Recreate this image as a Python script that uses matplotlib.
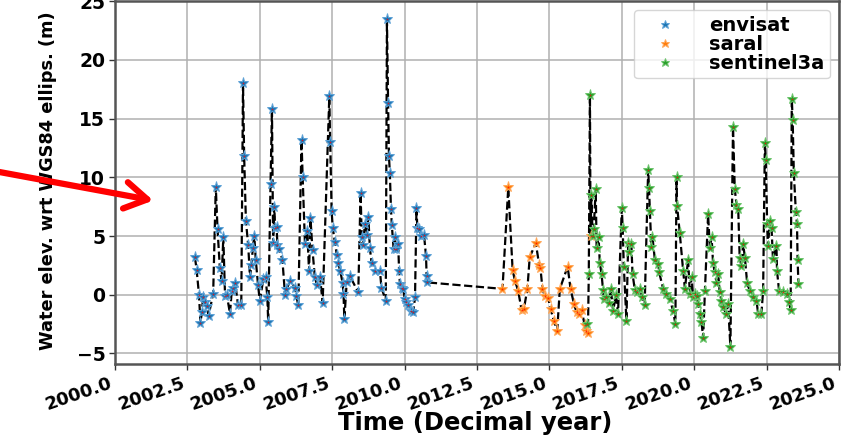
import matplotlib
matplotlib.use("Agg")
import matplotlib.pyplot as plt
from matplotlib.ticker import FormatStrFormatter
from matplotlib.patches import FancyArrowPatch
import numpy as np

# ---------------- data ----------------
envisat_t = [2002.76, 2002.82, 2002.90, 2002.95, 2003.00, 2003.04, 2003.10, 2003.17, 2003.23,
             2003.39, 2003.48, 2003.54, 2003.62, 2003.68, 2003.74, 2003.80, 2003.86, 2003.97,
             2004.03, 2004.09, 2004.15, 2004.25, 2004.36, 2004.42, 2004.46, 2004.52, 2004.60,
             2004.66, 2004.71, 2004.76, 2004.81, 2004.86, 2004.94, 2005.00, 2005.12, 2005.20,
             2005.26, 2005.29, 2005.37, 2005.42, 2005.46, 2005.50, 2005.53, 2005.58, 2005.61,
             2005.67, 2005.78, 2005.87, 2005.92, 2006.06, 2006.21, 2006.26, 2006.33, 2006.44,
             2006.48, 2006.56, 2006.64, 2006.70, 2006.75, 2006.82, 2006.90, 2006.98, 2007.08,
             2007.17, 2007.40, 2007.43, 2007.48, 2007.52, 2007.59, 2007.66, 2007.71, 2007.78,
             2007.86, 2007.89, 2007.92, 2008.00, 2008.11, 2008.40, 2008.48, 2008.52, 2008.56,
             2008.63, 2008.69, 2008.75, 2008.80, 2008.86, 2008.98, 2009.15, 2009.20, 2009.35,
             2009.39, 2009.43, 2009.46, 2009.49, 2009.53, 2009.56, 2009.62, 2009.67, 2009.72,
             2009.78, 2009.81, 2009.84, 2009.90, 2009.95, 2010.01, 2010.06, 2010.13, 2010.21,
             2010.30, 2010.36, 2010.41, 2010.44, 2010.51, 2010.58, 2010.67, 2010.74, 2010.76,
             2010.79]
envisat_h = [3.2, 2.1, 0.0, -2.4, -1.5, -0.2, -0.6, -1.0, -1.8,
             0.1, 9.2, 5.6, 2.3, 1.2, 4.9, -0.1, 0.0, -1.6,
             0.3, 0.6, 1.0, -0.9, -0.9, 18.0, 11.8, 6.3, 4.2,
             1.5, 2.5, 4.0, 5.0, 3.0, 0.8, -0.5, 1.3, 1.5,
             -0.2, -2.3, 9.4, 15.8, 4.4, 7.5, 5.7, 5.8, 4.2,
             3.9, 3.0, 0.0, 0.5, 1.2, 0.6, -0.1, -0.9, 13.2,
             10.0, 4.3, 5.4, 2.0, 6.5, 3.8, 1.5, 0.8, 1.5,
             -0.7, 16.9, 13.0, 7.1, 5.7, 4.5, 3.4, 2.7, 2.0,
             1.0, 0.1, -2.1, 1.05, 1.6, 0.2, 8.7, 4.9, 4.2,
             6.0, 5.1, 6.6, 4.0, 2.7, 2.0, 2.0, 0.6, -0.5,
             23.5, 16.3, 11.8, 10.4, 7.3, 5.9, 3.9, 4.9, 3.9,
             4.3, 2.0, 0.9, 0.6, 0.5, -0.4, -0.65, -0.9, -1.35,
             -1.5, -0.2, 7.4, 5.7, 5.6, 5.0, 5.1, 3.3, 1.6,
             1.05]

saral_t = [2013.38, 2013.58, 2013.73, 2013.81, 2013.92, 2014.04, 2014.12, 2014.24, 2014.32,
           2014.53, 2014.65, 2014.69, 2014.76, 2014.84, 2014.96, 2015.04, 2015.15, 2015.27,
           2015.36, 2015.63, 2015.73, 2015.85, 2015.94, 2016.03, 2016.11, 2016.22, 2016.27,
           2016.33, 2016.42]
saral_h = [0.5, 9.15, 2.1, 1.2, 0.35, -1.3, -1.2, 0.5, 3.2,
           4.4, 2.5, 2.3, 0.5, -0.1, -0.3, -1.2, -2.2, -3.05,
           0.5, 2.4, 0.5, -0.8, -1.5, -1.65, -1.3, -2.6, -3.05,
           -3.3, 5.0]

sentinel3a_t = [2016.30, 2016.36, 2016.40, 2016.45, 2016.49, 2016.53, 2016.60, 2016.63, 2016.70,
                2016.74, 2016.80, 2016.85, 2016.88, 2016.96, 2017.05, 2017.12, 2017.20, 2017.30,
                2017.37, 2017.50, 2017.53, 2017.57, 2017.66, 2017.72, 2017.76, 2017.83, 2017.87,
                2017.95, 2018.01, 2018.12, 2018.21, 2018.29, 2018.41, 2018.44, 2018.47, 2018.52,
                2018.56, 2018.64, 2018.76, 2018.79, 2018.93, 2019.02, 2019.16, 2019.27, 2019.35,
                2019.39, 2019.41, 2019.50, 2019.62, 2019.68, 2019.79, 2019.85, 2019.91, 2019.96,
                2020.02, 2020.08, 2020.14, 2020.19, 2020.25, 2020.31, 2020.37, 2020.48, 2020.54,
                2020.60, 2020.65, 2020.71, 2020.77, 2020.83, 2020.88, 2020.94, 2021.00, 2021.11,
                2021.17, 2021.25, 2021.34, 2021.40, 2021.46, 2021.52, 2021.57, 2021.63, 2021.69,
                2021.75, 2021.83, 2021.92, 2022.03, 2022.15, 2022.21, 2022.32, 2022.38, 2022.44,
                2022.47, 2022.52, 2022.55, 2022.61, 2022.67, 2022.72, 2022.84, 2022.86, 2022.93,
                2023.07, 2023.21, 2023.28, 2023.33, 2023.37, 2023.40, 2023.44, 2023.51, 2023.55,
                2023.57, 2023.60]
sentinel3a_h = [-2.5, 1.8, 17.0, 8.5, 5.0, 5.6, 9.0, 4.0, 4.9,
                2.7, 1.8, 0.4, -0.35, -0.2, -0.7, 0.5, -1.35, -0.05,
                -1.6, 7.35, 5.7, 2.4, -2.2, 4.4, 3.6, 4.3, 1.8,
                0.4, 0.2, 0.5, -0.2, -0.85, 10.65, 9.1, 7.1, 4.1,
                4.9, 3.0, 2.6, 1.9, 0.5, 0.06, -0.4, -1.35, -2.5,
                10.0, 7.55, 5.3, 2.0, 0.5, 3.0, 0.06, 1.5, -0.2,
                0.06, -0.1, -0.8, -1.64, -2.3, -3.67, 0.34, 6.84, 4.0,
                4.9, 2.74, 1.9, 1.04, 1.75, 0.2, -0.5, -1.07, -1.64,
                -0.8, -4.46, 14.32, 9.04, 7.68, 7.34, 3.16, 2.46, 4.35,
                3.16, 0.96, 0.34, -0.23, -0.51, -1.64, -1.64, 0.34, 12.9,
                11.5, 5.99, 4.15, 6.27, 5.7, 3.02, 4.15, 2.03, 0.34,
                0.2, 0.06, -0.65, -1.3, 16.7, 14.9, 10.4, 7.06, 6.0,
                3.0, 0.9]

series_names = ["envisat", "saral", "sentinel3a"]
xticks = [2000.0, 2002.5, 2005.0, 2007.5, 2010.0, 2012.5, 2015.0, 2017.5, 2020.0, 2022.5, 2025.0]
yticks = [-5, 0, 5, 10, 15, 20, 25]

# ---------------- figure ----------------
W, H = 844, 437
fig = plt.figure(figsize=(W / 100, H / 100), dpi=100)
ax = fig.add_axes([115 / W, (H - 364) / H, (839 - 115) / W, 363 / H])

# connecting dashed line through all points in time order
all_t = np.array(envisat_t + saral_t + sentinel3a_t)
all_h = np.array(envisat_h + saral_h + sentinel3a_h)
order = np.argsort(all_t, kind="stable")
ax.plot(all_t[order], all_h[order], linestyle="--", color="black", lw=1.6,
        gapcolor="white", zorder=2)

colors = ["#1f77b4", "#ff7f0e", "#2ca02c"]
edge = ["#5fa2d6", "#ffa95c", "#6cc46c"]
for name, tt, hh, c, ec in zip(series_names,
                               [envisat_t, saral_t, sentinel3a_t],
                               [envisat_h, saral_h, sentinel3a_h], colors, edge):
    ax.plot(tt, hh, linestyle="none", marker="*", ms=8, color=c, mec=ec, mew=0.7,
            label=name, zorder=3)
    ax.plot(tt, hh, linestyle="none", marker="o", ms=1.2, color="red", mew=0,
            alpha=0.8, zorder=4)

ax.set_xlim(2000.0, 2025.0)
ax.set_ylim(-5.9, 25.02)
ax.set_xticks(xticks)
ax.set_yticks(yticks)
ax.xaxis.set_major_formatter(FormatStrFormatter("%.1f"))
ax.grid(True, color="#b0b0b0", lw=1.1)
ax.set_axisbelow(True)

for lab in ax.get_xticklabels():
    lab.set_rotation(19)
    lab.set_ha("right")
    lab.set_fontweight("bold")
    lab.set_fontsize(13)
for lab in ax.get_yticklabels():
    lab.set_fontweight("bold")
    lab.set_fontsize(13.5)
ax.tick_params(axis="both", length=4, width=1, color="#333333", pad=3)

for s in ax.spines.values():
    s.set_color("#555555")
    s.set_linewidth(1.8)

ax.set_xlabel("Time (Decimal year)", fontsize=17.5, fontweight="bold")
ax.xaxis.set_label_coords(0.497, (364 - 411) / 363)
ax.set_ylabel("Water elev. wrt WGS84 ellips. (m)", fontsize=12.8, fontweight="bold")
ax.yaxis.set_label_coords((57 - 115) / 724, 0.505)

leg = ax.legend(loc="upper right", prop={"weight": "bold", "size": 14},
                markerscale=0.8, handletextpad=0.95, borderpad=0.3, labelspacing=0.0,
                handlelength=2.6, borderaxespad=0.45)

# red annotation arrow in figure pixel space
arrow = FancyArrowPatch(posA=(-6 / W, 1 - 171 / H), posB=(156 / W, 1 - 201 / H),
                        transform=fig.transFigure, arrowstyle="->,head_length=10,head_width=6",
                        color="red", lw=4.5, mutation_scale=1.6, zorder=10)
fig.add_artist(arrow)

fig.savefig("out.png", dpi=100)
